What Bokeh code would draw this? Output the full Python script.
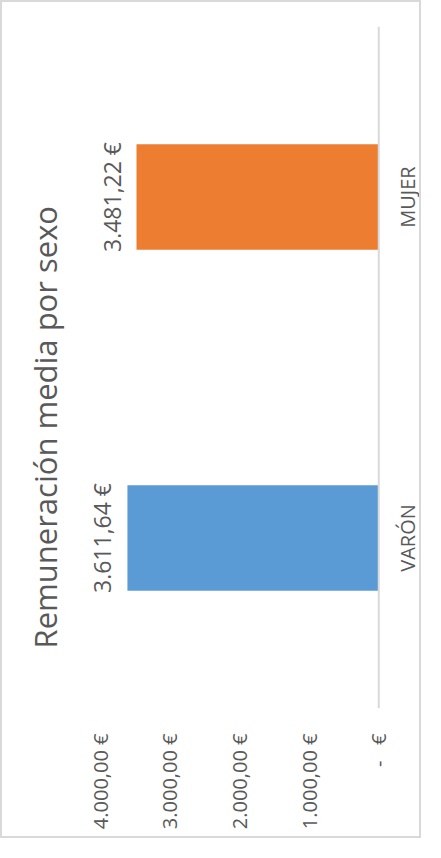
import math
from bokeh.plotting import figure
from bokeh.models import (Range1d, FactorRange, FixedTicker, LinearAxis,
                          ColumnDataSource, LabelSet, Span)
from bokeh.core.properties import value
from bokeh.embed import file_html
from bokeh.resources import INLINE

# ---- data ----
title_text = "Remuneración media por sexo"
categories = ["VARÓN", "MUJER"]
values = [3611.64, 3481.22]
value_labels = ["3.611,64 €", "3.481,22 €"]
bar_colors = ["#5B9BD5", "#ED7D31"]
tick_values = [0, 1000, 2000, 3000, 4000]
tick_labels = ["-\u00a0\u00a0\u00a0€", "1.000,00 €", "2.000,00 €", "3.000,00 €", "4.000,00 €"]

FONT = "Open Sans"
GRAY = "#595959"

src = ColumnDataSource(dict(cat=categories, val=values, lab=value_labels, col=bar_colors,
                            base=[0] * len(categories)))

# value axis reversed (rotated Excel chart): 0 on the right, 4000 toward the left
p = figure(width=421, height=838, output_backend="svg", toolbar_location=None,
           x_range=Range1d(4171, -643), y_range=FactorRange(factors=categories, range_padding=0),
           x_axis_location=None, y_axis_location=None,
           min_border_left=84, min_border_right=0, min_border_top=24, min_border_bottom=132)
p.styles = {"border": "2px solid #d9d9d9"}
p.outline_line_color = None
p.xgrid.visible = False
p.ygrid.visible = False

p.hbar(y="cat", right="val", left="base", height=0.31, color="col", source=src, line_color=None)

# category axis line at zero
p.add_layout(Span(location=0, dimension="height", line_color="#d9d9d9", line_width=2))

# data labels
p.add_layout(LabelSet(x="val", y="cat", text="lab", source=src, angle=math.pi / 2,
                      text_align="center", text_baseline="alphabetic", x_offset=-16,
                      text_font=value(FONT), text_font_size=value("23px"),
                      text_color=value(GRAY)))

# category labels
p.add_layout(LabelSet(x="base", y="cat", text="cat", source=src, angle=math.pi / 2,
                      text_align="center", text_baseline="middle", x_offset=29,
                      text_font=value(FONT), text_font_size=value("20px"),
                      text_color=value(GRAY)))

xa = LinearAxis(ticker=FixedTicker(ticks=tick_values),
                major_label_overrides={t: l for t, l in zip(tick_values, tick_labels)})
xa.major_label_orientation = math.pi / 2
xa.axis_line_color = None
xa.major_tick_line_color = None
xa.major_tick_out = 0
xa.major_tick_in = 0
xa.minor_tick_line_color = None
xa.minor_tick_out = 0
xa.major_label_standoff = 25
xa.major_label_text_font = FONT
xa.major_label_text_font_size = "20px"
xa.major_label_text_color = GRAY
p.add_layout(xa, "below")

p.title.text = title_text
p.title_location = "left"
p.title.align = "left"
p.title.vertical_align = "top"
p.title.offset = 60
p.title.text_font = FONT
p.title.text_font_style = "normal"
p.title.text_font_size = "31px"
p.title.text_color = GRAY
p.title.standoff = 42

open("out.html", "w").write(file_html(p, INLINE))
